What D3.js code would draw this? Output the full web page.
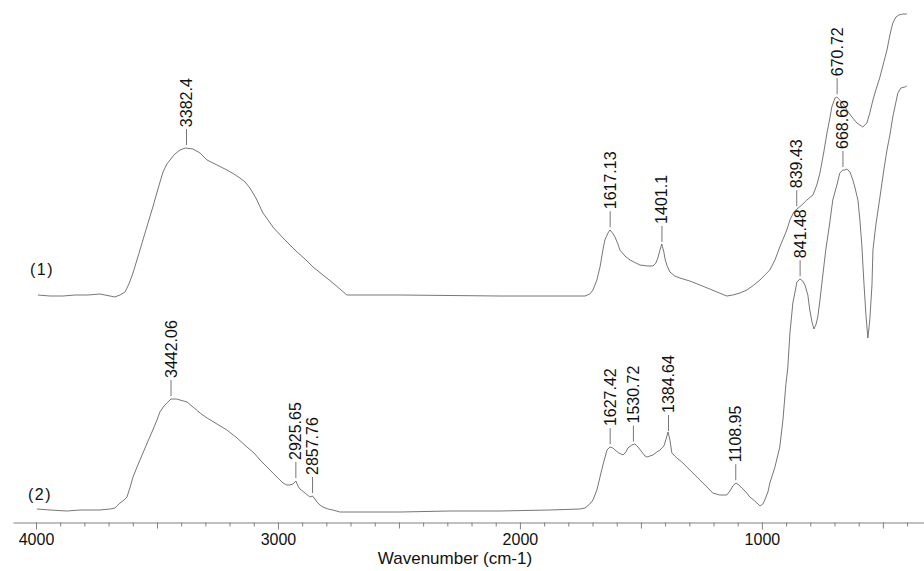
<!DOCTYPE html>
<html>
<head>
<meta charset="utf-8">
<script src="https://cdn.jsdelivr.net/npm/d3@7"></script>
<style>
  body { margin: 0; background: #fff; }
  svg { display: block; font-family: "Liberation Sans", Arial, sans-serif; }
</style>
</head>
<body>
<div id="chart"></div>
<script>
// Spectrum (1): wavenumber (cm-1) and offset transmittance
const wn1 = [3992,3942,3888,3839,3785,3736,3694,3674,3653,3632,3616,3599,3579,3558,3537,3517,3496,3475,3459,3446,3426,3405,3382,3351,3322,3293,3252,3211,3182,3157,3136,3116,3091,3062,3041,3021,2979,2938,2921,2888,2855,2814,2773,2744,2715,2496,2083,1731,1711,1698,1682,1669,1657,1649,1636,1628,1617,1607,1595,1587,1566,1545,1504,1471,1450,1438,1430,1421,1414,1405,1401,1393,1380,1360,1339,1298,1256,1215,1186,1165,1145,1120,1091,1062,1033,1008,988,967,946,926,909,897,884,868,855,835,814,789,773,760,744,731,719,711,698,690,678,661,649,628,607,583,566,554,541,529,512,496,483,471,459,446,434,417,401];
const t1 = [45.4,45.2,45.2,45.4,45.4,45.6,45.2,45.0,45.4,46.0,47.6,49.8,53.0,56.4,59.8,63.0,66.6,70.0,71.6,72.4,73.6,74.4,74.8,74.6,73.8,72.4,71.4,70.4,69.6,68.8,68.0,66.8,64.8,61.8,60.4,59.0,56.8,54.8,54.0,52.6,51.0,49.4,47.8,46.6,45.4,45.4,45.2,45.2,45.6,46.4,48.4,51.0,54.4,56.4,57.8,58.4,57.8,57.0,55.6,54.4,53.2,52.4,51.4,51.2,51.2,51.8,52.8,54.4,55.6,54.0,52.8,51.4,50.0,49.2,48.8,48.2,47.4,46.6,46.0,45.6,45.2,45.4,45.8,46.4,47.4,48.4,49.4,50.4,52.4,55.0,57.0,58.4,60.4,62.0,62.6,63.4,64.4,65.4,67.4,69.8,74.0,77.8,80.8,83.0,84.8,85.0,84.4,83.4,82.4,81.0,79.8,79.0,79.8,81.8,84.4,86.4,89.0,92.0,94.4,97.4,99.8,101.0,101.4,101.6,101.6];

// Spectrum (2)
const wn2 = [3996,3942,3872,3818,3736,3694,3674,3653,3636,3624,3612,3599,3579,3558,3537,3517,3500,3488,3471,3459,3442,3420,3405,3376,3351,3322,3293,3252,3211,3169,3128,3099,3074,3045,3021,2996,2979,2963,2950,2938,2926,2915,2909,2888,2868,2857,2847,2839,2826,2814,2793,2773,2744,2496,2289,2083,1876,1752,1731,1711,1698,1682,1669,1657,1640,1628,1616,1607,1591,1574,1562,1554,1537,1525,1512,1496,1483,1475,1463,1450,1434,1421,1405,1397,1388,1380,1372,1360,1351,1331,1310,1285,1256,1227,1203,1174,1145,1132,1120,1107,1095,1083,1066,1050,1029,1008,996,988,975,967,946,926,913,901,893,884,872,855,843,831,822,810,802,793,785,777,769,760,752,736,719,707,690,678,665,657,649,636,624,616,603,595,587,579,570,562,554,545,541,529,512,496,483,471,459,446,438,426,409,401];
const t2 = [2.6,2.4,2.2,2.4,2.4,2.6,2.8,3.8,4.4,5.0,6.8,9.0,11.4,13.8,16.2,18.4,20.4,22.0,23.2,23.8,24.6,24.6,24.4,24.0,23.0,21.8,20.8,19.6,18.4,16.8,15.0,13.8,12.4,11.0,9.8,8.6,7.8,7.4,7.4,7.6,8.2,7.0,6.6,5.8,5.0,5.2,4.6,4.0,3.4,3.0,2.6,2.4,2.0,2.0,2.2,2.2,2.4,2.6,2.8,3.6,4.4,6.4,9.0,11.4,14.4,15.0,14.8,14.4,13.8,13.4,14.0,14.8,15.4,15.6,15.0,14.0,13.2,13.0,13.2,13.4,14.0,14.4,15.2,16.4,18.0,16.4,13.8,13.2,12.8,12.0,11.0,9.8,8.4,7.0,5.8,5.4,5.4,6.2,7.2,7.8,7.4,6.8,6.0,5.0,4.2,3.2,3.6,4.4,6.0,7.8,11.0,15.0,20.4,27.4,30.8,37.8,43.8,48.0,48.6,48.2,47.4,45.4,42.4,40.0,38.6,39.4,41.0,44.4,47.8,54.4,60.0,64.4,67.4,69.8,70.4,70.4,70.6,70.0,68.4,67.0,64.4,60.4,55.4,48.4,41.4,36.8,40.4,47.4,54.4,59.4,65.0,70.4,74.4,77.4,81.0,84.0,85.8,86.8,87.0,87.2];

// Peak labels and where they sit on each trace
const peakText1 = ["3382.4", "1617.13", "1401.1", "839.43", "670.72"];
const peakAt1 = [3378, 1627, 1413, 856, 689];
const peakText2 = ["3442.06", "2925.65", "2857.76", "1627.42", "1530.72", "1384.64", "1108.95", "841.48", "668.66"];
const peakAt2 = [3442, 2926, 2857, 1627, 1531, 1386, 1108, 842, 665];

const seriesNames = ["(1)", "(2)"];
const tickValues = d3.range(4000, 399, -100);

const width = 924, height = 571;
const axisY = 522.5;

const svg = d3.select("#chart").append("svg")
    .attr("width", width)
    .attr("height", height);

const x = d3.scaleLinear().domain([4095, 330]).range([13, 924]);
const y = d3.scaleLinear().domain([0, 100]).range([522, 22]);

// linear interpolation of a trace at wavenumber w
function valueAt(wn, t, w) {
    for (let i = 0; i < wn.length - 1; i++) {
        if (w <= wn[i] && w >= wn[i + 1]) {
            const f = (wn[i] - w) / (wn[i] - wn[i + 1]);
            return t[i] + f * (t[i + 1] - t[i]);
        }
    }
    return t[t.length - 1];
}

// Bottom axis
const xAxis = d3.axisBottom(x)
    .tickValues(tickValues)
    .tickSizeOuter(0)
    .tickFormat(d => d % 1000 === 0 ? d : "");

const gx = svg.append("g")
    .attr("transform", `translate(0,${axisY})`)
    .call(xAxis);

gx.select(".domain").attr("stroke", "#808080");
gx.selectAll(".tick line")
    .attr("stroke", "#808080")
    .attr("y2", d => d % 1000 === 0 ? 7 : (d % 500 === 0 ? 6 : 4));
gx.selectAll(".tick text")
    .attr("y", 11)
    .attr("fill", "#111")
    .style("font-size", "16px")
    .style("font-family", "'Liberation Sans', Arial, sans-serif");

svg.append("text")
    .attr("x", 455)
    .attr("y", 564)
    .attr("text-anchor", "middle")
    .attr("fill", "#111")
    .style("font-size", "17px")
    .text("Wavenumber (cm-1)");

// Traces
const line = d3.line()
    .x(d => x(d[0]))
    .y(d => y(d[1]));

[[wn1, t1], [wn2, t2]].forEach(([wn, t]) => {
    svg.append("path")
        .datum(wn.map((w, i) => [w, t[i]]))
        .attr("fill", "none")
        .attr("stroke", "#666")
        .attr("stroke-width", 0.9)
        .attr("d", line);
});

// Peak annotations
function drawPeaks(wn, t, texts, at) {
    const g = svg.append("g");
    texts.forEach((s, i) => {
        const px = x(at[i]);
        const py = y(valueAt(wn, t, at[i]));
        g.append("line")
            .attr("x1", px).attr("x2", px)
            .attr("y1", py - 3).attr("y2", py - 19)
            .attr("stroke", "#666")
            .attr("stroke-width", 0.9);
        g.append("text")
            .attr("transform", `translate(${px},${py - 21}) rotate(-90)`)
            .attr("dominant-baseline", "central")
            .attr("fill", "#111")
            .style("font-size", "16px")
            .text(s);
    });
}
drawPeaks(wn1, t1, peakText1, peakAt1);
drawPeaks(wn2, t2, peakText2, peakAt2);

// Trace names
svg.append("text")
    .attr("x", 30).attr("y", 275)
    .attr("fill", "#111")
    .style("font-size", "16px")
    .style("letter-spacing", "1.5px")
    .text(seriesNames[0]);
svg.append("text")
    .attr("x", 28).attr("y", 500)
    .attr("fill", "#111")
    .style("font-size", "16px")
    .style("letter-spacing", "1.5px")
    .text(seriesNames[1]);
</script>
</body>
</html>
